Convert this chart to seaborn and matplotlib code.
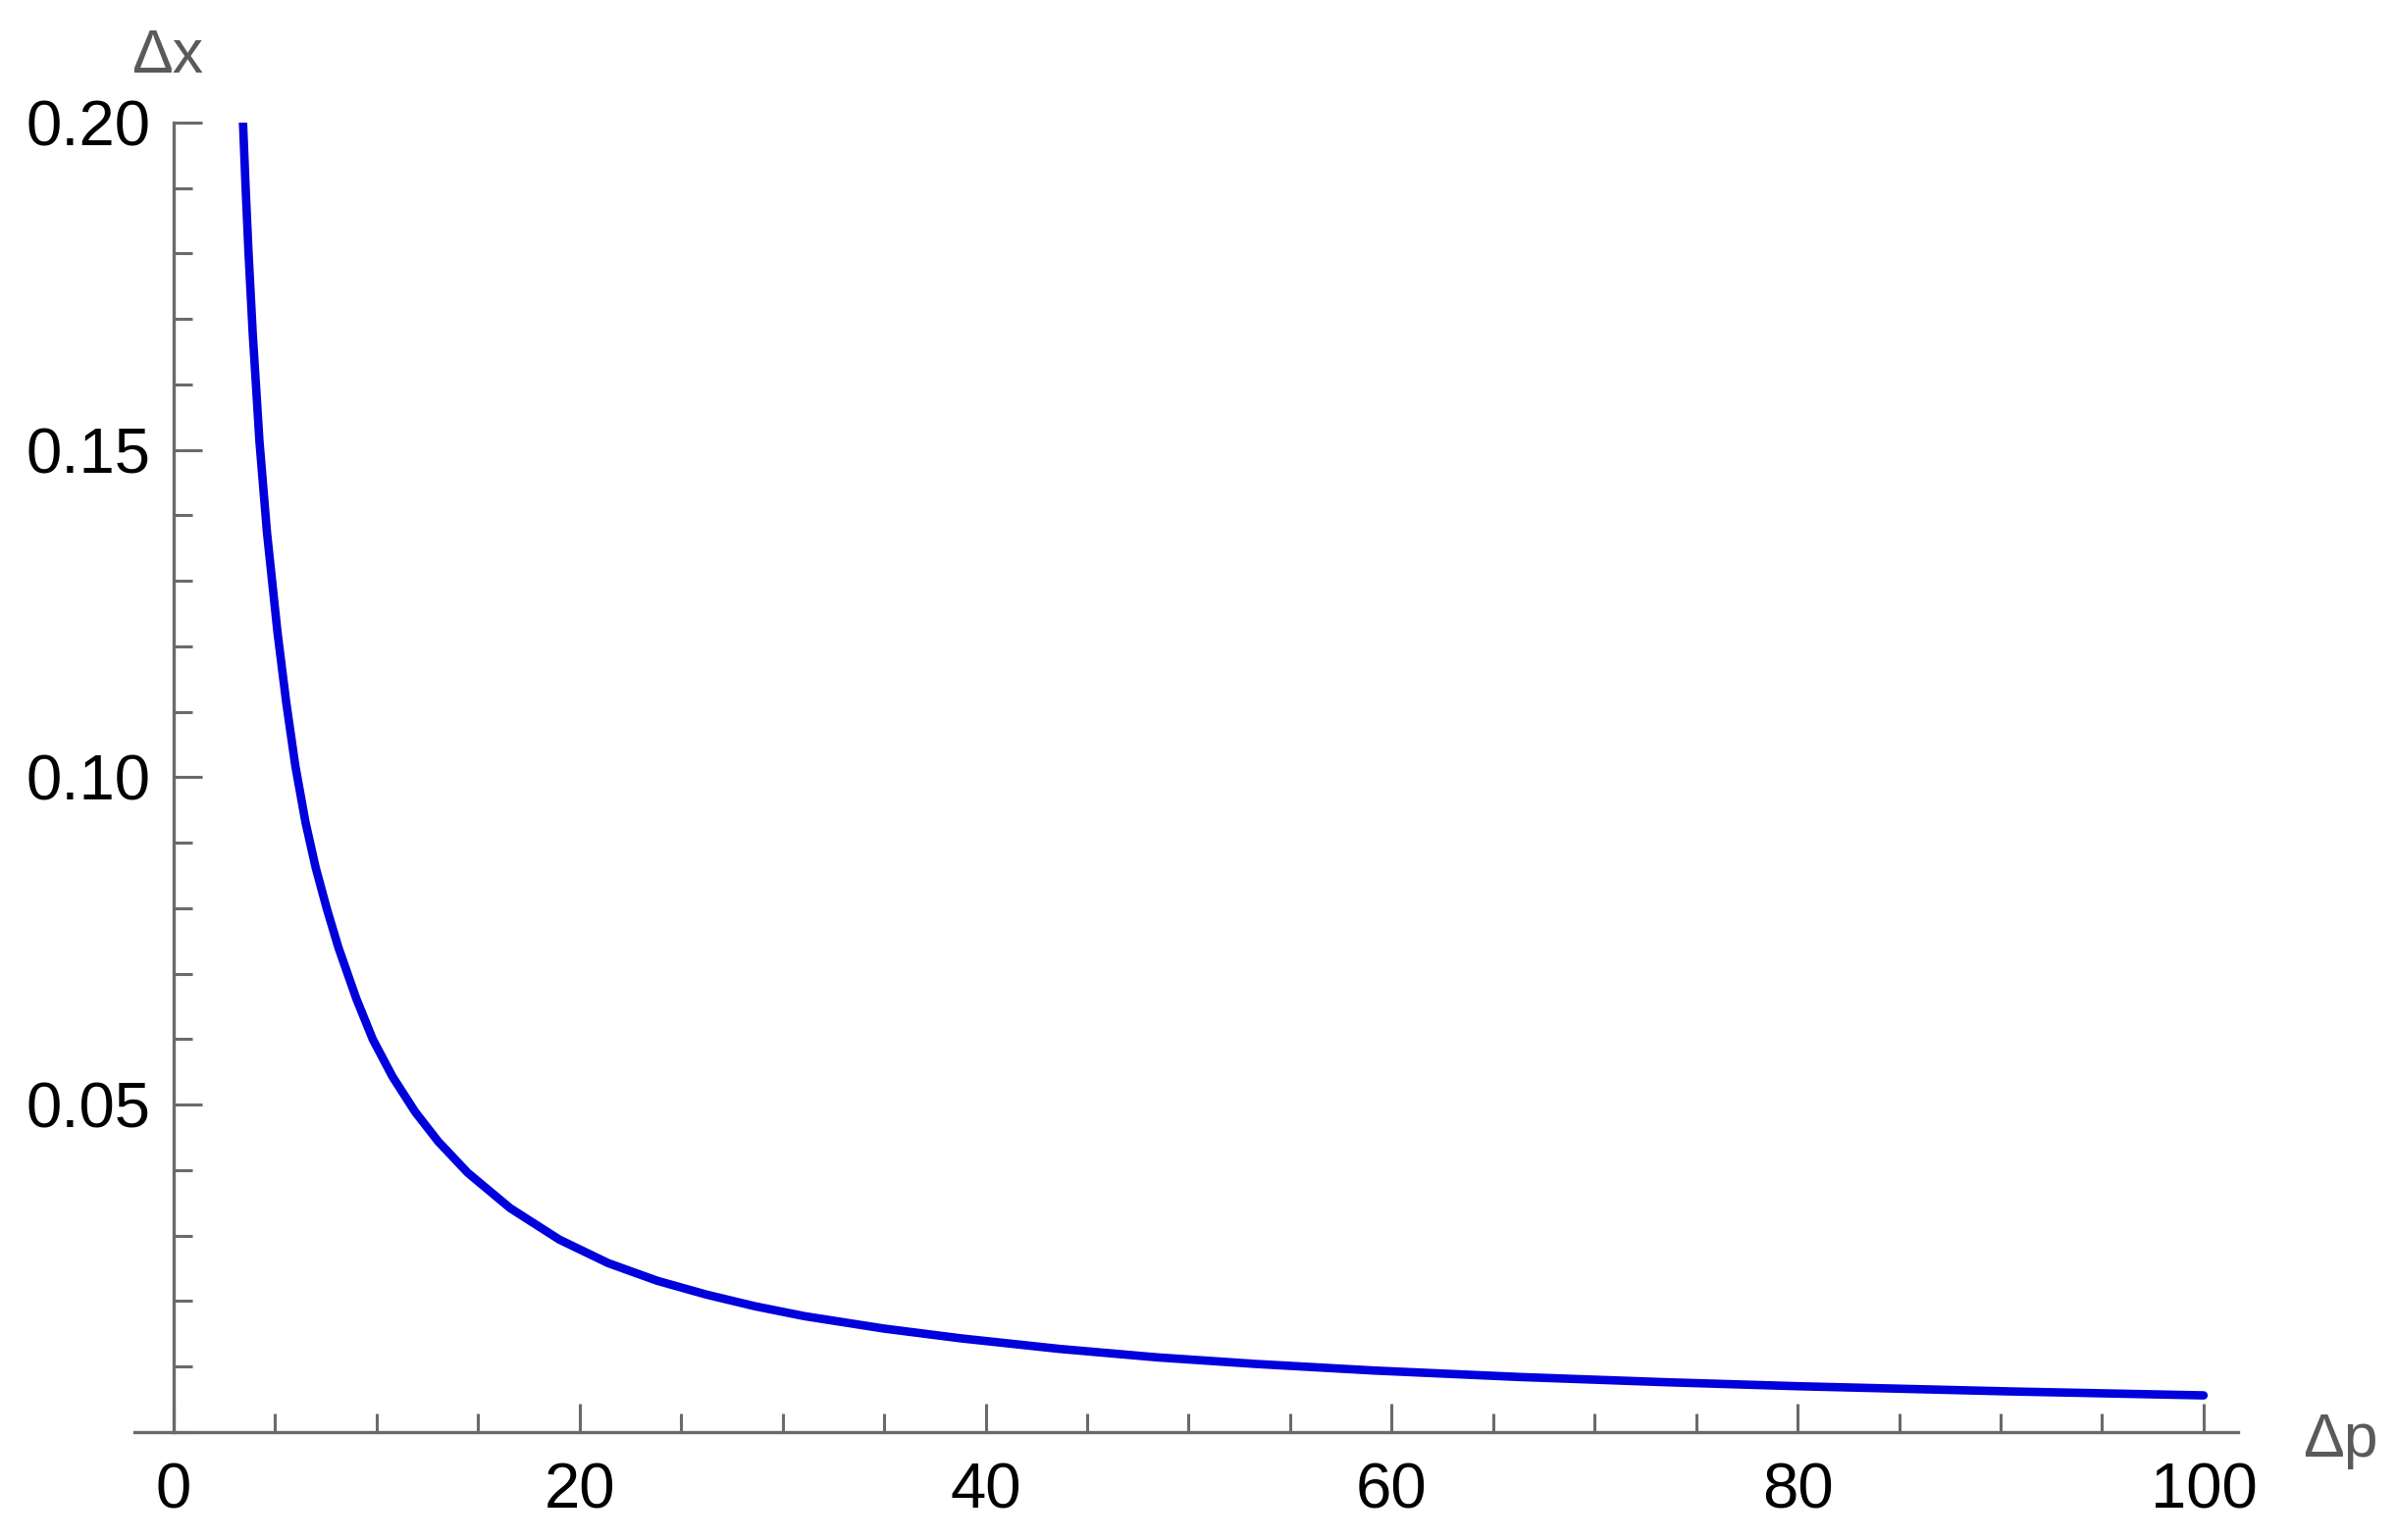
import numpy as np
import pandas as pd
import matplotlib
matplotlib.use("Agg")
import matplotlib.pyplot as plt
from matplotlib.ticker import MultipleLocator, FormatStrFormatter
import seaborn as sns

# values
delta_p = [3.42, 3.55, 3.69, 3.90, 4.23, 4.60, 5.12, 5.55, 6.00, 6.50,
           7.00, 7.55, 8.12, 9.00, 9.81, 10.78, 11.90, 13.03, 14.49, 16.58,
           19.00, 21.41, 23.83, 26.24, 28.66, 31.08, 35.00, 38.81, 43.64,
           48.48, 53.31, 59.11, 66.36, 73.61, 80.00, 90.53, 100.0]
delta_x = [0.2000, 0.1899, 0.1802, 0.1677, 0.1513, 0.1374, 0.1221, 0.1114,
           0.1017, 0.0931, 0.0862, 0.0799, 0.0740, 0.0662, 0.0600, 0.0543,
           0.0489, 0.0444, 0.0396, 0.0342, 0.0294, 0.0258, 0.0231, 0.0210,
           0.0192, 0.0177, 0.0158, 0.0143, 0.0127, 0.0114, 0.0104, 0.0094,
           0.0084, 0.0076, 0.0070, 0.0062, 0.0056]

x_ticks = [0, 20, 40, 60, 80, 100]
y_ticks = [0.05, 0.10, 0.15, 0.20]

df = pd.DataFrame({"dp": delta_p, "dx": delta_x})

sns.set_style("ticks")
plt.rcParams["font.family"] = ["Liberation Sans", "DejaVu Sans"]

fig = plt.figure(figsize=(24.42, 15.70), dpi=100)
ax = fig.add_axes([0.0561, 0.0701, 0.878, 0.8503])

sns.lineplot(data=df, x="dp", y="dx", ax=ax, color="#0000dd",
             linewidth=6.2, sort=False, legend=False)

ax.set_xlim(-1.93, 101.7)
ax.set_ylim(0, 0.2)

axis_grey = "#6a6a6a"
ax.spines["top"].set_visible(False)
ax.spines["right"].set_visible(False)
ax.spines["left"].set_position(("data", 0))
for s in ["left", "bottom"]:
    ax.spines[s].set_color(axis_grey)
    ax.spines[s].set_linewidth(2.4)

ax.set_xticks(x_ticks)
ax.set_yticks(y_ticks)
ax.xaxis.set_minor_locator(MultipleLocator(5))
ax.yaxis.set_minor_locator(MultipleLocator(0.01))
ax.yaxis.set_major_formatter(FormatStrFormatter("%.2f"))

ax.tick_params(which="both", direction="in", color=axis_grey, width=2.2,
               labelsize=47, labelcolor="black")
ax.tick_params(which="major", length=21)
ax.tick_params(which="minor", length=14)
ax.tick_params(axis="x", pad=22)
ax.tick_params(axis="y", pad=17)

ax.set_xlabel("")
ax.set_ylabel("")

fig.text(171 / 2442, 1 - 58 / 1570, "Δx", fontsize=45, color="#5a5a5a",
         ha="center", va="center")
fig.text(2385 / 2442, 1 - 1468 / 1570, "Δp", fontsize=45, color="#5a5a5a",
         ha="center", va="center")

fig.savefig("out.png", dpi=100, facecolor="white")
